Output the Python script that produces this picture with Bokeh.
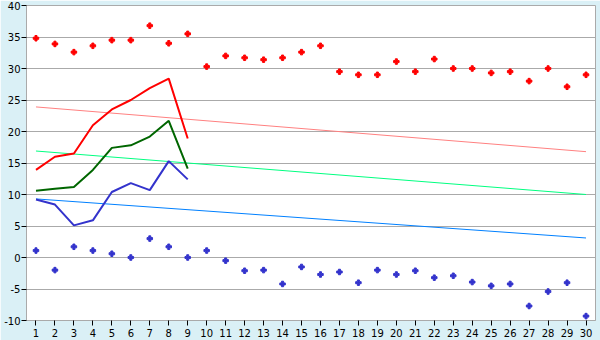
from bokeh.plotting import figure
from bokeh.models import FixedTicker, Range1d, PrintfTickFormatter
from bokeh.embed import file_html
from bokeh.resources import INLINE

days = list(range(1, 31))
high_pts = [34.8, 33.9, 32.6, 33.6, 34.5, 34.5, 36.8, 34.0, 35.5, 30.3,
            32.0, 31.7, 31.4, 31.7, 32.6, 33.6, 29.5, 29.0, 29.0, 31.1,
            29.5, 31.5, 30.0, 30.0, 29.3, 29.5, 28.0, 30.0, 27.1, 29.0]
low_pts = [1.1, -2.0, 1.7, 1.1, 0.6, 0.0, 3.0, 1.7, 0.0, 1.1,
           -0.5, -2.1, -2.0, -4.2, -1.5, -2.7, -2.3, -4.0, -2.0, -2.7,
           -2.1, -3.2, -2.9, -3.9, -4.5, -4.2, -7.7, -5.4, -4.0, -9.3]
line_days = list(range(1, 10))
red_line = [13.9, 16.0, 16.5, 21.0, 23.5, 25.0, 26.9, 28.4, 18.9]
green_line = [10.6, 10.9, 11.2, 13.9, 17.4, 17.8, 19.2, 21.7, 14.1]
blue_line = [9.2, 8.4, 5.1, 5.9, 10.4, 11.8, 10.7, 15.3, 12.4]
trend_days = [1, 30]
trend_high = [23.9, 16.8]
trend_mid = [16.9, 10.0]
trend_low = [9.3, 3.1]
y_ticks = list(range(-10, 45, 5))

p = figure(width=600, height=340, output_backend="svg", toolbar_location=None,
           x_range=Range1d(0.5, 30.5), y_range=Range1d(-10, 40),
           min_border_left=26, min_border_right=5, min_border_top=5, min_border_bottom=20)
p.background_fill_color = "white"
p.border_fill_color = "#daf0f6"
p.outline_line_color = "#aaaaaa"

p.xgrid.grid_line_color = None
p.ygrid.grid_line_color = "#aaaaaa"
p.ygrid.grid_line_width = 1

for ax in (p.xaxis, p.yaxis):
    ax.axis_line_color = "#aaaaaa"
    ax.major_tick_line_color = "#000000"
    ax.minor_tick_line_color = None
    ax.major_tick_in = 0
    ax.major_tick_out = 5
    ax.major_label_text_font = "DejaVu Sans"
    ax.major_label_text_font_size = "10px"
    ax.major_label_text_color = "#000000"
p.xaxis.ticker = FixedTicker(ticks=days)
p.yaxis.ticker = FixedTicker(ticks=y_ticks)
p.yaxis.formatter = PrintfTickFormatter(format="%d")
p.xaxis.major_label_standoff = 3
p.yaxis.major_label_standoff = 1

p.line(trend_days, trend_high, color="#ff8080", line_width=1)
p.line(trend_days, trend_mid, color="#00ff80", line_width=1)
p.line(trend_days, trend_low, color="#0080ff", line_width=1)

p.line(line_days, red_line, color="#ff0000", line_width=2)
p.line(line_days, green_line, color="#006600", line_width=2)
p.line(line_days, blue_line, color="#3333cc", line_width=2)

p.scatter(days, high_pts, marker="plus", size=5.5, color="#ff0000")
p.scatter(days, low_pts, marker="plus", size=5.5, color="#3333cc")

open("out.html", "w").write(file_html(p, INLINE))
